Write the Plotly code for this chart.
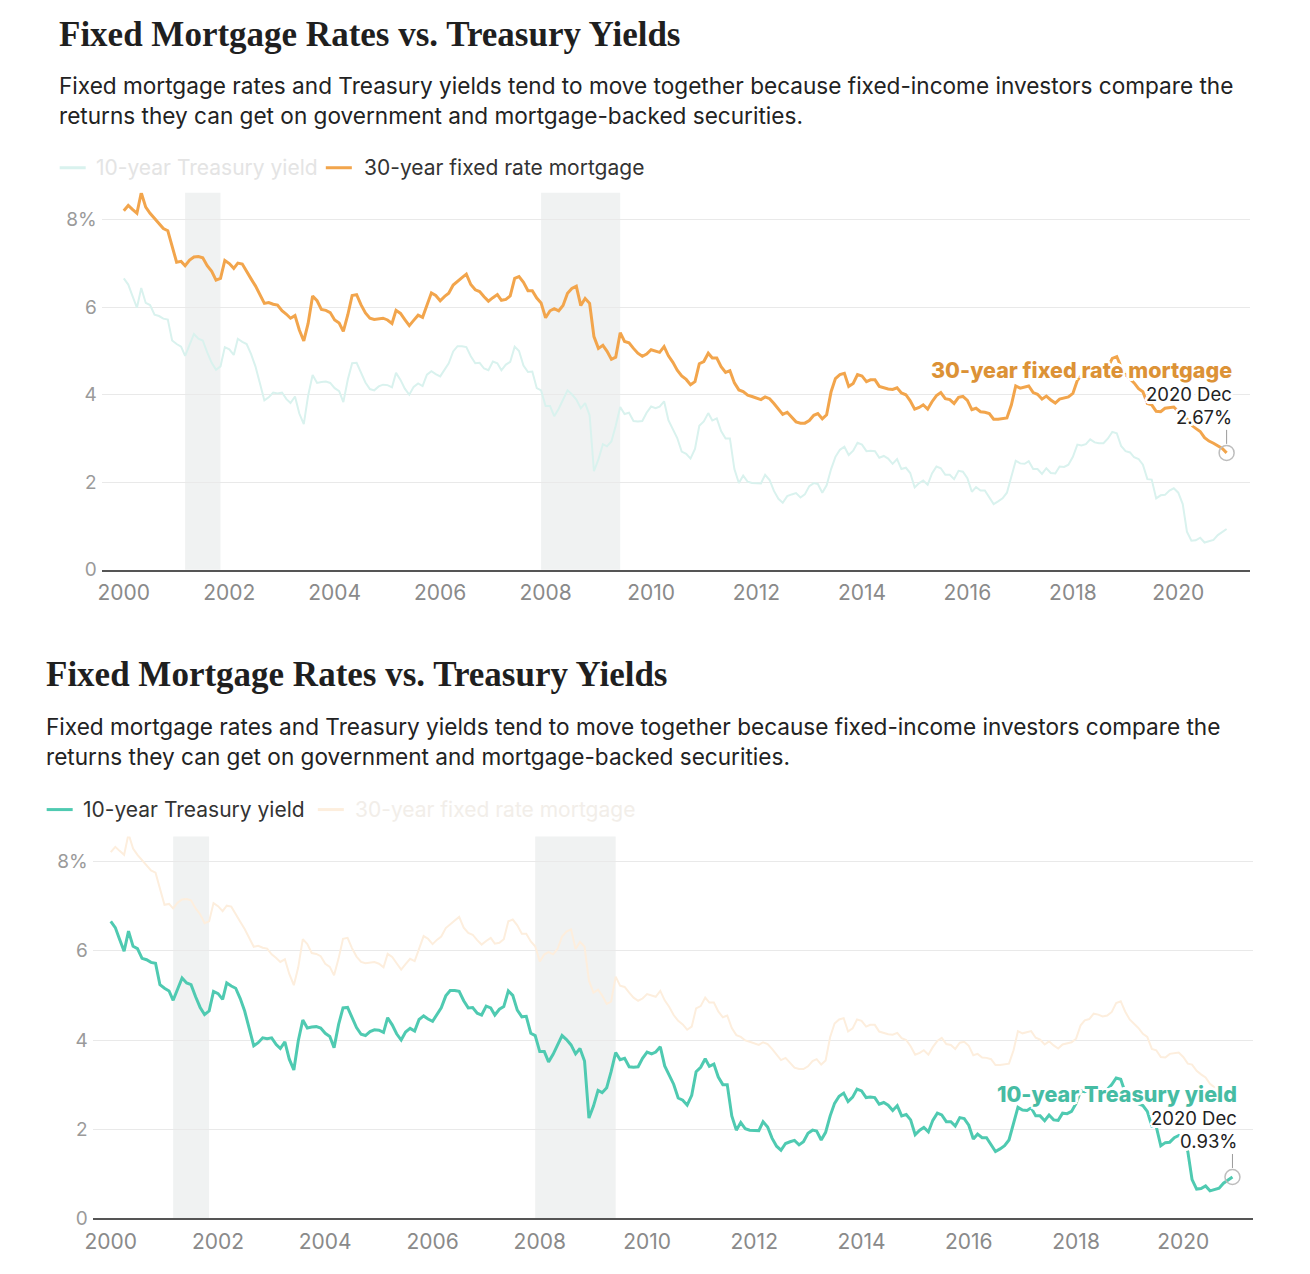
import pandas as pd
import plotly.graph_objects as go

# ---------------- data (monthly, Jan 2000 - Dec 2020) ----------------
dates = pd.date_range("2000-01-01", "2020-12-01", freq="MS")

mortgage_30y = [
    8.21, 8.33, 8.24, 8.15, 8.62, 8.29, 8.15, 8.03, 7.91, 7.80, 7.75, 7.38,  # 2000
    7.03, 7.05, 6.95, 7.08, 7.15, 7.16, 7.13, 6.95, 6.82, 6.62, 6.66, 7.07,  # 2001
    7.00, 6.89, 7.01, 6.99, 6.81, 6.65, 6.49, 6.29, 6.09, 6.11, 6.07, 6.05,  # 2002
    5.92, 5.84, 5.75, 5.81, 5.48, 5.23, 5.63, 6.26, 6.15, 5.95, 5.93, 5.88,  # 2003
    5.71, 5.64, 5.45, 5.83, 6.27, 6.29, 6.06, 5.87, 5.75, 5.72, 5.73, 5.75,  # 2004
    5.71, 5.63, 5.93, 5.86, 5.72, 5.58, 5.70, 5.82, 5.77, 6.07, 6.33, 6.27,  # 2005
    6.15, 6.25, 6.32, 6.51, 6.60, 6.68, 6.76, 6.52, 6.40, 6.36, 6.24, 6.14,  # 2006
    6.22, 6.29, 6.16, 6.18, 6.26, 6.66, 6.70, 6.57, 6.38, 6.38, 6.21, 6.10,  # 2007
    5.76, 5.92, 5.97, 5.92, 6.04, 6.32, 6.43, 6.48, 6.04, 6.20, 6.09, 5.33,  # 2008
    5.06, 5.13, 5.00, 4.81, 4.86, 5.42, 5.22, 5.19, 5.06, 4.95, 4.88, 4.93,  # 2009
    5.03, 4.99, 4.97, 5.10, 4.89, 4.74, 4.56, 4.43, 4.35, 4.23, 4.30, 4.71,  # 2010
    4.76, 4.95, 4.84, 4.84, 4.64, 4.51, 4.55, 4.27, 4.11, 4.07, 3.99, 3.96,  # 2011
    3.92, 3.89, 3.95, 3.91, 3.80, 3.68, 3.55, 3.60, 3.50, 3.38, 3.35, 3.35,  # 2012
    3.41, 3.53, 3.57, 3.45, 3.54, 4.07, 4.37, 4.46, 4.49, 4.19, 4.26, 4.46,  # 2013
    4.43, 4.30, 4.34, 4.34, 4.19, 4.16, 4.13, 4.12, 4.16, 4.04, 4.00, 3.86,  # 2014
    3.67, 3.71, 3.77, 3.67, 3.84, 3.98, 4.05, 3.91, 3.89, 3.80, 3.94, 3.96,  # 2015
    3.87, 3.66, 3.69, 3.61, 3.60, 3.57, 3.44, 3.44, 3.46, 3.47, 3.77, 4.20,  # 2016
    4.15, 4.17, 4.20, 4.05, 4.01, 3.90, 3.97, 3.88, 3.81, 3.90, 3.92, 3.95,  # 2017
    4.03, 4.33, 4.44, 4.47, 4.59, 4.57, 4.53, 4.55, 4.63, 4.83, 4.87, 4.64,  # 2018
    4.46, 4.37, 4.27, 4.14, 4.07, 3.80, 3.77, 3.62, 3.61, 3.69, 3.70, 3.72,  # 2019
    3.62, 3.47, 3.45, 3.31, 3.23, 3.16, 3.02, 2.94, 2.89, 2.83, 2.77, 2.67,  # 2020
]

treasury_10y = [
    6.66, 6.52, 6.26, 5.99, 6.44, 6.10, 6.05, 5.83, 5.80, 5.74, 5.72, 5.24,  # 2000
    5.16, 5.10, 4.89, 5.14, 5.39, 5.28, 5.24, 4.97, 4.73, 4.57, 4.65, 5.09,  # 2001
    5.04, 4.91, 5.28, 5.21, 5.16, 4.93, 4.65, 4.26, 3.87, 3.94, 4.05, 4.03,  # 2002
    4.05, 3.90, 3.81, 3.96, 3.57, 3.33, 3.98, 4.45, 4.27, 4.29, 4.30, 4.27,  # 2003
    4.15, 4.08, 3.83, 4.35, 4.72, 4.73, 4.50, 4.28, 4.13, 4.10, 4.19, 4.23,  # 2004
    4.22, 4.17, 4.50, 4.34, 4.14, 4.00, 4.18, 4.26, 4.20, 4.46, 4.54, 4.47,  # 2005
    4.42, 4.57, 4.72, 4.99, 5.11, 5.11, 5.09, 4.88, 4.72, 4.73, 4.60, 4.56,  # 2006
    4.76, 4.72, 4.56, 4.69, 4.75, 5.10, 5.00, 4.67, 4.52, 4.53, 4.15, 4.10,  # 2007
    3.74, 3.74, 3.51, 3.68, 3.88, 4.10, 4.01, 3.89, 3.69, 3.81, 3.53, 2.25,  # 2008
    2.52, 2.87, 2.82, 2.93, 3.29, 3.72, 3.56, 3.59, 3.40, 3.39, 3.40, 3.59,  # 2009
    3.73, 3.69, 3.73, 3.85, 3.42, 3.20, 3.01, 2.70, 2.65, 2.54, 2.76, 3.29,  # 2010
    3.39, 3.58, 3.41, 3.46, 3.17, 3.00, 3.00, 2.30, 1.98, 2.15, 2.01, 1.98,  # 2011
    1.97, 1.97, 2.17, 2.05, 1.80, 1.62, 1.53, 1.68, 1.72, 1.75, 1.65, 1.72,  # 2012
    1.91, 1.98, 1.96, 1.76, 1.93, 2.30, 2.58, 2.74, 2.81, 2.62, 2.72, 2.90,  # 2013
    2.86, 2.71, 2.72, 2.71, 2.56, 2.60, 2.54, 2.42, 2.53, 2.30, 2.33, 2.21,  # 2014
    1.88, 1.98, 2.04, 1.94, 2.20, 2.36, 2.32, 2.17, 2.17, 2.07, 2.26, 2.24,  # 2015
    2.09, 1.78, 1.89, 1.81, 1.81, 1.64, 1.50, 1.56, 1.63, 1.76, 2.14, 2.49,  # 2016
    2.43, 2.42, 2.48, 2.30, 2.30, 2.19, 2.32, 2.21, 2.20, 2.36, 2.35, 2.40,  # 2017
    2.58, 2.86, 2.84, 2.87, 2.98, 2.91, 2.89, 2.89, 3.00, 3.15, 3.12, 2.83,  # 2018
    2.71, 2.68, 2.57, 2.53, 2.40, 2.07, 2.06, 1.63, 1.70, 1.71, 1.81, 1.86,  # 2019
    1.76, 1.50, 0.87, 0.66, 0.67, 0.73, 0.62, 0.65, 0.68, 0.79, 0.87, 0.93,  # 2020
]

recession_starts = ["2001-03-01", "2007-12-01"]
recession_ends = ["2001-11-01", "2009-06-01"]

x_tick_years = list(range(2000, 2021, 2))
y_tick_vals = [0, 2, 4, 6, 8]
y_tick_text = ["0", "2", "4", "6", "8%"]

title_text = "Fixed Mortgage Rates vs. Treasury Yields"
subtitle_lines = [
    "Fixed mortgage rates and Treasury yields tend to move together because fixed-income investors compare the",
    "returns they can get on government and mortgage-backed securities.",
]
name_treasury = "10-year Treasury yield"
name_mortgage = "30-year fixed rate mortgage"
last_label = "2020 Dec"

# ---------------- styles ----------------
PAGE_MARGIN = 8                      # default body margin of the html page
W, H = 1310 - 2 * PAGE_MARGIN, 1274 - 2 * PAGE_MARGIN
# calibration of target pixel positions (measured on a previous render)
SX, OX = 0.9933, 8.4
SY, OY = 0.9907, 0.3

ORANGE = "#f2a54c"
ORANGE_TXT = "#dc9236"
ORANGE_FADED = "#fdeedd"
TEAL = "#4fcab1"
TEAL_TXT = "#46bca3"
TEAL_FADED = "#d9f2ee"
SANS = "Inter, 'Open Sans', sans-serif"
SERIF = "'Liberation Serif', 'DejaVu Serif', serif"
HALO = ", ".join(f"white {dx}px {dy}px 0" for dx, dy in
                 [(2, 0), (-2, 0), (0, 2), (0, -2), (2, 2), (-2, -2), (2, -2), (-2, 2),
                  (3, 0), (-3, 0), (0, 3), (0, -3)])


def px(p):  # target pixel col -> paper x
    return ((p - OX) / SX - PAGE_MARGIN) / W


def py(p):  # target pixel row -> paper y
    return 1 - ((p - OY) / SY - PAGE_MARGIN) / H


fig = go.Figure()

panels = [
    dict(xa="x", ya="y", hi="mortgage", xd=(102, 1250), yd=(570, 193),
         xr=["1999-08-01", "2021-05-14"], yr=[0, 8.62],
         left=57, title_y=35, sub_y=(86, 116), leg_y=168,
         leg=[(60, 86, 94), (326, 352, 362)]),
    dict(xa="x2", ya="y2", hi="treasury", xd=(93, 1253), yd=(1219, 837),
         xr=["1999-08-31", "2021-04-22"], yr=[0, 8.56],
         left=44, title_y=675, sub_y=(727, 757), leg_y=810,
         leg=[(47, 73, 81), (318, 344, 353)]),
]

annotations = []
shapes = []

for i, p in enumerate(panels):
    hi_m = p["hi"] == "mortgage"
    series = [
        (name_treasury, treasury_10y, TEAL if not hi_m else TEAL_FADED, not hi_m),
        (name_mortgage, mortgage_30y, ORANGE if hi_m else ORANGE_FADED, hi_m),
    ]
    for name, vals, col, active in sorted(series, key=lambda s: s[3]):
        fig.add_trace(go.Scatter(
            x=dates, y=vals, mode="lines", name=name, xaxis=p["xa"], yaxis=p["ya"],
            line=dict(color=col, width=3 if active else 2), showlegend=False,
            hoverinfo="skip"))
    act_vals = mortgage_30y if hi_m else treasury_10y
    act_col = ORANGE_TXT if hi_m else TEAL_TXT
    act_name = name_mortgage if hi_m else name_treasury
    fig.add_trace(go.Scatter(
        x=[dates[-1]], y=[act_vals[-1]], mode="markers", xaxis=p["xa"], yaxis=p["ya"],
        marker=dict(size=15, color="rgba(255,255,255,0)",
                    line=dict(color="#bdbdbd", width=1.5)),
        showlegend=False, hoverinfo="skip"))

    yd_ref = ("y" if i == 0 else "y2") + " domain"
    for s, e in zip(recession_starts, recession_ends):
        shapes.append(dict(type="rect", xref=p["xa"], yref=yd_ref, x0=s, x1=e, y0=0, y1=1,
                           fillcolor="#f0f2f2", line=dict(width=0), layer="below"))

    shapes.append(dict(type="line", xref=p["xa"], yref=p["ya"], ysizemode="pixel",
                       xanchor=dates[-1], yanchor=act_vals[-1],
                       x0=dates[-1], x1=dates[-1], y0=9, y1=23,
                       line=dict(color="#9a9a9a", width=1)))

    last_txt = f"{act_vals[-1]:.2f}%"
    for txt, yshift, fnt in [
        (act_name, 83, dict(family=SANS, size=21.5, color=act_col, weight=800, shadow=HALO)),
        (last_label, 59, dict(family=SANS, size=18.5, color="#222222", shadow=HALO)),
        (last_txt, 36, dict(family=SANS, size=18.5, color="#222222", shadow=HALO)),
    ]:
        annotations.append(dict(xref=p["xa"], yref=p["ya"], x=dates[-1], y=act_vals[-1],
                                text=txt, showarrow=False, xanchor="right", yanchor="middle",
                                xshift=7, yshift=yshift, font=fnt))

    annotations.append(dict(xref="paper", yref="paper", x=px(p["left"]), y=py(p["title_y"]),
                            text=f"<b>{title_text}</b>", showarrow=False, xanchor="left",
                            yanchor="middle",
                            font=dict(family=SERIF, size=35, color="#1f1f1f")))
    for line_txt, ly in zip(subtitle_lines, p["sub_y"]):
        annotations.append(dict(xref="paper", yref="paper", x=px(p["left"]), y=py(ly),
                                text=line_txt, showarrow=False, xanchor="left",
                                yanchor="middle",
                                font=dict(family=SANS, size=22.6, color="#222222")))

    leg_items = [
        (name_treasury, TEAL if not hi_m else TEAL_FADED, "#333333" if not hi_m else "#e4e4e4"),
        (name_mortgage, ORANGE if hi_m else ORANGE_FADED, "#333333" if hi_m else "#f2eee9"),
    ]
    for (nm, lcol, tcol), (x0, x1, tx) in zip(leg_items, p["leg"]):
        shapes.append(dict(type="line", xref="paper", yref="paper",
                           x0=px(x0), x1=px(x1), y0=py(p["leg_y"]), y1=py(p["leg_y"]),
                           line=dict(color=lcol, width=3)))
        annotations.append(dict(xref="paper", yref="paper", x=px(tx), y=py(p["leg_y"]),
                                text=nm, showarrow=False, xanchor="left", yanchor="middle",
                                font=dict(family=SANS, size=21, color=tcol)))

    xkey = "xaxis" if i == 0 else "xaxis2"
    ykey = "yaxis" if i == 0 else "yaxis2"
    fig.update_layout(**{
        xkey: dict(domain=[px(p["xd"][0]), px(p["xd"][1])], range=p["xr"], type="date",
                   anchor=p["ya"], tickvals=[f"{y}-01-01" for y in x_tick_years],
                   ticktext=[str(y) for y in x_tick_years], showgrid=False,
                   showline=True, linecolor="#555555", linewidth=2, ticks="",
                   ticklabelstandoff=3,
                   tickfont=dict(family=SANS, size=21, color="#8a8a8a"), zeroline=False,
                   fixedrange=True),
        ykey: dict(domain=[py(p["yd"][0]), py(p["yd"][1])], range=p["yr"], anchor=p["xa"],
                   tickvals=y_tick_vals, ticktext=y_tick_text, showgrid=True,
                   gridcolor="#e9e9e9", gridwidth=1, zeroline=False, showline=False,
                   ticks="", ticklabelstandoff=4,
                   tickfont=dict(family=SANS, size=19, color="#9a9a9a"), fixedrange=True),
    })

fig.update_layout(
    width=W, height=H, autosize=False,
    margin=dict(l=0, r=0, t=0, b=0),
    paper_bgcolor="white", plot_bgcolor="white",
    showlegend=False,
    annotations=annotations, shapes=shapes,
)

fig.write_html("out.html", config={"displayModeBar": False})
